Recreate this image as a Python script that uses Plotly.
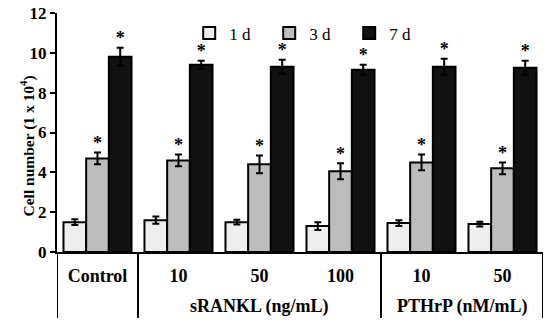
import plotly.graph_objects as go

categories = ["Control", "10", "50", "100", "10", "50"]
group_labels = ["sRANKL (ng/mL)", "PTHrP (nM/mL)"]
series_names = ["1 d", "3 d", "7 d"]
vals_1d = [1.5, 1.6, 1.5, 1.3, 1.45, 1.4]
vals_3d = [4.7, 4.6, 4.4, 4.05, 4.5, 4.2]
vals_7d = [9.8, 9.4, 9.3, 9.15, 9.3, 9.25]
err_1d = [0.15, 0.18, 0.12, 0.2, 0.15, 0.12]
err_3d = [0.3, 0.3, 0.45, 0.4, 0.4, 0.3]
err_7d = [0.45, 0.2, 0.35, 0.25, 0.4, 0.35]
colors = ["#eeeeee", "#bdbdbd", "#111111"]

FONT = "Liberation Serif"
x = list(range(len(categories)))
bargap = 0.16
w = (1 - bargap) / 3

fig = go.Figure()
for name, vals, errs, col in zip(series_names, [vals_1d, vals_3d, vals_7d],
                                  [err_1d, err_3d, err_7d], colors):
    fig.add_trace(go.Bar(
        x=x, y=vals, name=name,
        marker=dict(color=col, line=dict(color="black", width=2)),
        error_y=dict(type="data", array=errs, visible=True,
                     color="black", thickness=2, width=3.5),
    ))

# significance asterisks above 3 d and 7 d bars
for k, (vals, errs) in enumerate([(vals_3d, err_3d), (vals_7d, err_7d)]):
    off = w * k
    fig.add_trace(go.Scatter(
        x=[xi + off for xi in x],
        y=[v + e + 0.42 for v, e in zip(vals, errs)],
        mode="text", text=["<b>*</b>"] * len(x), textposition="middle center",
        textfont=dict(family=FONT, size=18, color="black"),
        showlegend=False, hoverinfo="skip",
    ))

# frame below axis
sep_positions = [-0.5, 0.5, 3.5, 5.5]
for xs in sep_positions:
    fig.add_shape(type="line", xref="x", yref="paper", x0=xs, x1=xs,
                  y0=0, y1=-66 / 239, line=dict(color="black", width=2))

# group labels
fig.add_annotation(x=2, y=0, xref="x", yref="paper", yshift=-54, yanchor="middle",
                   text="<b>" + group_labels[0] + "</b>", showarrow=False,
                   font=dict(family=FONT, size=18, color="black"))
fig.add_annotation(x=4.5, y=0, xref="x", yref="paper", yshift=-54, yanchor="middle",
                   text="<b>" + group_labels[1] + "</b>", showarrow=False,
                   font=dict(family=FONT, size=18, color="black"))

# y title
fig.add_annotation(x=0, y=(252 - 146) / 239, xref="paper", yref="paper",
                   xshift=-42, text="<b>Cell number (1 x 10<sup>4</sup>)</b>",
                   textangle=-90, showarrow=False,
                   font=dict(family=FONT, size=15.5, color="black"))

fig.update_layout(
    width=550, height=330,
    margin=dict(l=57, r=7, t=13, b=78, autoexpand=False),
    paper_bgcolor="white", plot_bgcolor="white",
    barmode="group", bargap=bargap, bargroupgap=0,
    font=dict(family=FONT, size=17, color="black"),
    legend=dict(orientation="h", x=0.272, y=0.99, xanchor="left", yanchor="top",
                entrywidth=35, entrywidthmode="pixels",
                font=dict(family=FONT, size=17, color="black"),
                bgcolor="rgba(0,0,0,0)"),
    xaxis=dict(range=[-0.5, 5.5], tickvals=x,
               ticktext=["<b>" + c + "</b>" for c in categories],
               tickfont=dict(size=18),
               showline=True, linecolor="black", linewidth=2,
               ticks="", ticklabelstandoff=6, showgrid=False, zeroline=False,
               automargin=False),
    yaxis=dict(range=[0, 12], dtick=2, showline=True, linecolor="black",
               linewidth=2, ticks="outside", ticklen=5, tickwidth=2,
               tickcolor="black", showgrid=False, zeroline=False,
               tickprefix="<b>", ticksuffix="</b>", automargin=False,
               ticklabeloverflow="allow"),
    showlegend=True,
)

fig.write_html("out.html", config={"displayModeBar": False},
               post_script="document.body.style.margin='0';")
